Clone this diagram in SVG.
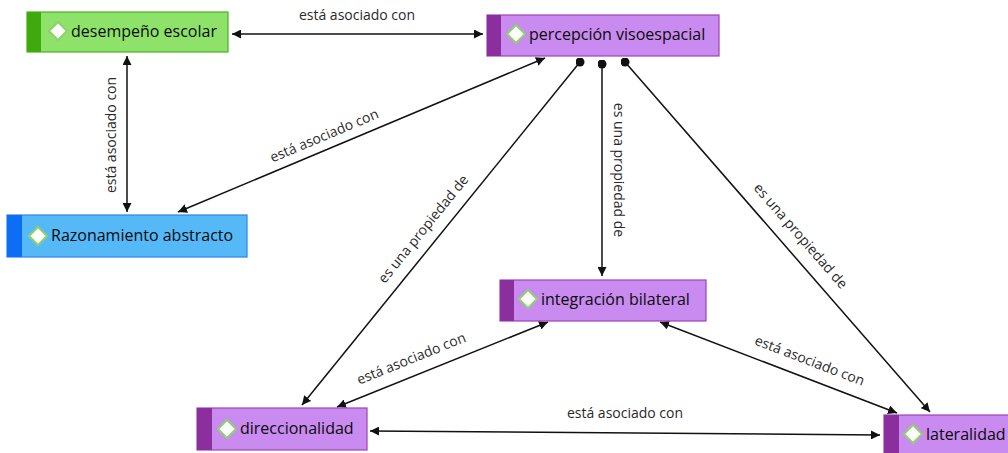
<svg xmlns="http://www.w3.org/2000/svg" width="1008" height="453" viewBox="0 0 1008 453">
<defs>
<style>
.lbl{font-family:"Open Sans","Liberation Sans",sans-serif;font-size:14px;fill:#2a2a2a}
.nt{font-family:"Open Sans","Liberation Sans",sans-serif;font-size:16px;fill:#0a0a0a;font-weight:500}
.c{stroke:#111;stroke-width:1.5;fill:none}
.dia{fill:#fff;stroke:#8fd070;stroke-width:2}
.pf{fill:#c98bef;stroke:#9b45b5;stroke-width:1.2}
.ps{fill:#8c2f9e}
</style>
<marker id="ah" viewBox="0 0 10 10" refX="10" refY="5" markerWidth="9" markerHeight="9" markerUnits="userSpaceOnUse" orient="auto-start-reverse"><path d="M0,0 L10,5 L0,10 z" fill="#111"/></marker>
<marker id="dot" viewBox="0 0 10 10" refX="5" refY="5" markerWidth="9" markerHeight="9" markerUnits="userSpaceOnUse"><circle cx="5" cy="5" r="5" fill="#111"/></marker>
</defs>
<rect width="1008" height="453" fill="#fff"/>
<g id="connectors">
<line class="c" x1="232" y1="34" x2="483" y2="34" marker-start="url(#ah)" marker-end="url(#ah)"/>
<text class="lbl" x="357" y="20" text-anchor="middle">está asociado con</text>
<line class="c" x1="127" y1="56" x2="127" y2="212" marker-start="url(#ah)" marker-end="url(#ah)"/>
<text class="lbl" transform="translate(116,135) rotate(-90)" text-anchor="middle">está asociado con</text>
<line class="c" x1="545" y1="58" x2="178" y2="212" marker-start="url(#ah)" marker-end="url(#ah)"/>
<text class="lbl" transform="translate(326,140) rotate(-22.8)" text-anchor="middle">está asociado con</text>
<line class="c" x1="580" y1="62" x2="302" y2="405" marker-start="url(#dot)" marker-end="url(#ah)"/>
<text class="lbl" transform="translate(427,232) rotate(-51)" text-anchor="middle">es una propiedad de</text>
<line class="c" x1="602" y1="64" x2="602" y2="276" marker-start="url(#dot)" marker-end="url(#ah)"/>
<text class="lbl" transform="translate(614,170) rotate(90)" text-anchor="middle">es una propiedad de</text>
<line class="c" x1="625" y1="62" x2="930" y2="412" marker-start="url(#dot)" marker-end="url(#ah)"/>
<text class="lbl" transform="translate(797,239) rotate(49)" text-anchor="middle">es una propiedad de</text>
<line class="c" x1="548" y1="322" x2="337" y2="407" marker-start="url(#ah)" marker-end="url(#ah)"/>
<text class="lbl" transform="translate(413,363) rotate(-22)" text-anchor="middle">está asociado con</text>
<line class="c" x1="660" y1="322" x2="897" y2="413" marker-start="url(#ah)" marker-end="url(#ah)"/>
<text class="lbl" transform="translate(808,365) rotate(21)" text-anchor="middle">está asociado con</text>
<line class="c" x1="370" y1="431" x2="880" y2="435" marker-start="url(#ah)" marker-end="url(#ah)"/>
<text class="lbl" x="625" y="418" text-anchor="middle">está asociado con</text>
</g>
<g id="n-desempeno">
<rect x="27" y="12" width="201" height="40" fill="#8ee26a" stroke="#4cb020" stroke-width="1.2"/>
<rect x="27" y="12" width="14" height="40" fill="#3faa0c"/>
<path class="dia" d="M58,22 l9,9 l-9,9 l-9,-9 z"/>
<text class="nt" x="71" y="37">desempeño escolar</text>
</g>
<g id="n-percepcion">
<rect class="pf" x="487" y="15" width="232" height="41"/>
<rect class="ps" x="487" y="15" width="14" height="41"/>
<path class="dia" d="M516,25 l9,9 l-9,9 l-9,-9 z"/>
<text class="nt" x="529" y="40">percepción visoespacial</text>
</g>
<g id="n-razonamiento">
<rect x="7" y="215" width="240" height="42" fill="#56b9f7" stroke="#2a86e8" stroke-width="1.2"/>
<rect x="7" y="215" width="15" height="42" fill="#0c6ef2"/>
<path class="dia" d="M38,227 l9,9 l-9,9 l-9,-9 z"/>
<text class="nt" x="51" y="241">Razonamiento abstracto</text>
</g>
<g id="n-integracion">
<rect class="pf" x="500" y="280" width="206" height="41"/>
<rect class="ps" x="500" y="280" width="14" height="41"/>
<path class="dia" d="M528,290 l9,9 l-9,9 l-9,-9 z"/>
<text class="nt" x="541" y="305">integración bilateral</text>
</g>
<g id="n-direccionalidad">
<rect class="pf" x="197" y="408" width="170" height="42"/>
<rect class="ps" x="197" y="408" width="15" height="42"/>
<path class="dia" d="M227,420 l9,9 l-9,9 l-9,-9 z"/>
<text class="nt" x="240" y="434">direccionalidad</text>
</g>
<g id="n-lateralidad">
<rect class="pf" x="884" y="415" width="130" height="42"/>
<rect class="ps" x="884" y="415" width="15" height="42"/>
<path class="dia" d="M913,425 l9,9 l-9,9 l-9,-9 z"/>
<text class="nt" x="926" y="440">lateralidad</text>
</g>
</svg>
